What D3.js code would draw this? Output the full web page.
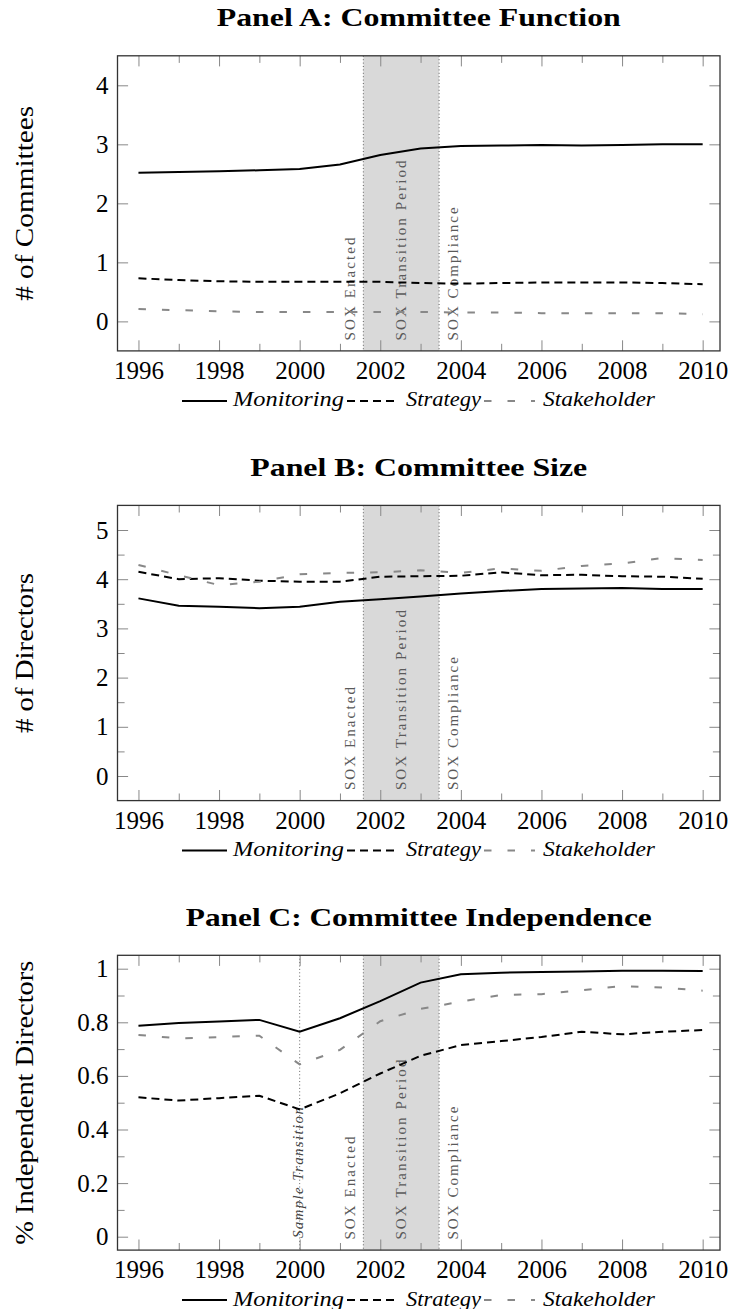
<!DOCTYPE html>
<html>
<head>
<meta charset="utf-8">
<script src="https://cdn.jsdelivr.net/npm/d3@7"></script>
<style>
  body { margin: 0; background: #fff; }
  svg { display: block; }
  text { font-family: "Liberation Serif", "Times New Roman", serif; }
</style>
</head>
<body>
<svg id="chart" width="730" height="1309"></svg>
<script>
// Years on the horizontal axis
const years = [1996, 1997, 1998, 1999, 2000, 2001, 2002, 2003, 2004, 2005, 2006, 2007, 2008, 2009, 2010];
const labeledYears = [1996, 1998, 2000, 2002, 2004, 2006, 2008, 2010];
const minorYears = [1997, 1999, 2001, 2003, 2005, 2007, 2009];

// SOX milestones (fractional years)
const soxEnacted = 2001.58;
const soxCompliance = 2003.46;
const sampleTransition = 2000;

// Panel A: number of committees by function
const monitoringA = [2.52, 2.53, 2.545, 2.56, 2.58, 2.66, 2.82, 2.93, 2.97, 2.98, 2.99, 2.98, 2.99, 3.00, 3.00];
const strategyA = [0.73, 0.70, 0.68, 0.67, 0.67, 0.67, 0.67, 0.65, 0.64, 0.65, 0.66, 0.66, 0.66, 0.65, 0.63];
const stakeholderA = [0.21, 0.19, 0.17, 0.16, 0.16, 0.16, 0.16, 0.16, 0.15, 0.15, 0.14, 0.14, 0.14, 0.14, 0.12];
const ticksA = [0, 1, 2, 3, 4];
const minorTicksA = [];

// Panel B: committee size (directors)
const monitoringB = [3.61, 3.46, 3.44, 3.41, 3.44, 3.54, 3.59, 3.65, 3.71, 3.76, 3.80, 3.81, 3.82, 3.80, 3.80];
const strategyB = [4.15, 4.00, 4.02, 3.97, 3.95, 3.95, 4.05, 4.06, 4.07, 4.14, 4.08, 4.09, 4.06, 4.05, 4.01];
const stakeholderB = [4.29, 4.08, 3.88, 3.95, 4.10, 4.13, 4.14, 4.18, 4.13, 4.22, 4.17, 4.27, 4.32, 4.43, 4.39];
const ticksB = [0, 1, 2, 3, 4, 5];
const minorTicksB = [0.5, 1.5, 2.5, 3.5, 4.5];

// Panel C: share of independent directors
const monitoringC = [0.787, 0.797, 0.803, 0.809, 0.765, 0.815, 0.879, 0.948, 0.979, 0.985, 0.988, 0.990, 0.992, 0.992, 0.991];
const strategyC = [0.520, 0.508, 0.517, 0.526, 0.475, 0.535, 0.609, 0.675, 0.715, 0.730, 0.745, 0.765, 0.755, 0.765, 0.771];
const stakeholderC = [0.753, 0.740, 0.745, 0.750, 0.643, 0.697, 0.804, 0.850, 0.877, 0.902, 0.905, 0.920, 0.935, 0.930, 0.918];
const ticksC = [0, 0.2, 0.4, 0.6, 0.8, 1];
const minorTicksC = [0.1, 0.3, 0.5, 0.7, 0.9];

const seriesNames = ["Monitoring", "Strategy", "Stakeholder"];

const styles = {
  Monitoring: { stroke: "#000", dash: null },
  Strategy: { stroke: "#000", dash: "8,5" },
  Stakeholder: { stroke: "#888", dash: "7.5,16" }
};

const panels = [
  { title: "Panel A: Committee Function", titleW: 404, ylabel: "# of Committees", ylabelW: 195,
    top: 55.8, bottom: 350.9, domain: [-0.5, 4.5], ticks: ticksA, minor: minorTicksA,
    data: [monitoringA, strategyA, stakeholderA], sample: false },
  { title: "Panel B: Committee Size", titleW: 337, ylabel: "# of Directors", ylabelW: 160,
    top: 505.4, bottom: 800.6, domain: [-0.5, 5.5], ticks: ticksB, minor: minorTicksB,
    data: [monitoringB, strategyB, stakeholderB], sample: false },
  { title: "Panel C: Committee Independence", titleW: 466, ylabel: "% Independent Directors", ylabelW: 284,
    top: 955.3, bottom: 1250.1, domain: [-0.05, 1.05], ticks: ticksC, minor: minorTicksC,
    data: [monitoringC, strategyC, stakeholderC], sample: true }
];

const svg = d3.select("#chart");
const left = 117.5, right = 720;
const x = d3.scaleLinear().domain([1995.48, 2010.43]).range([left, right]);
const majorLen = 10.6, minorLen = 7.1;
const fmt = d3.format("~g");

function fit(sel, w, mode) {
  return sel.attr("textLength", w).attr("lengthAdjust", mode || "spacingAndGlyphs");
}

panels.forEach(p => {
  const y = d3.scaleLinear().domain(p.domain).range([p.bottom, p.top]);
  const g = svg.append("g");
  const midX = (left + right) / 2;

  // Title
  fit(g.append("text")
    .attr("x", midX).attr("y", p.top - 29.5)
    .attr("text-anchor", "middle")
    .attr("font-size", 25).attr("font-weight", "bold")
    .text(p.title), p.titleW);

  // Y axis title
  fit(g.append("text")
    .attr("transform", `translate(33,${(p.top + p.bottom) / 2}) rotate(-90)`)
    .attr("text-anchor", "middle")
    .attr("font-size", 25)
    .text(p.ylabel), p.ylabelW);

  // SOX transition band
  g.append("rect")
    .attr("x", x(soxEnacted)).attr("y", p.top)
    .attr("width", x(soxCompliance) - x(soxEnacted))
    .attr("height", p.bottom - p.top)
    .attr("fill", "#d9d9d9");

  const vlines = [soxEnacted, soxCompliance].concat(p.sample ? [sampleTransition] : []);
  g.selectAll(".vl").data(vlines).join("line")
    .attr("x1", d => x(d)).attr("x2", d => x(d))
    .attr("y1", p.top).attr("y2", p.bottom)
    .attr("stroke", "#555").attr("stroke-width", 0.9)
    .attr("stroke-dasharray", "1,2.4");

  // Milestone annotations (letter-spaced, reading bottom to top)
  const annot = (xpos, w, txt, color) => {
    const t = g.append("text")
      .attr("transform", `translate(${xpos},${p.bottom - 10.5}) rotate(-90)`)
      .attr("font-size", 15)
      .attr("fill", color)
      .text(txt);
    fit(t, w, "spacing");
  };
  annot(x(soxEnacted) - 8.3, 103, "SOX Enacted", "#5a5a5a");
  annot((x(soxEnacted) + x(soxCompliance)) / 2 + 5, 180, "SOX Transition Period", "#5a5a5a");
  annot(x(soxCompliance) + 19, 133, "SOX Compliance", "#5a5a5a");
  if (p.sample) {
    const t = g.append("text")
      .attr("transform", `translate(${x(sampleTransition) + 3.5},${p.bottom - 12}) rotate(-90)`)
      .attr("font-size", 15).attr("font-style", "italic")
      .attr("fill", "#444")
      .text("Sample Transition");
    fit(t, 131, "spacing");
  }

  // Series lines
  const line = d3.line().x((d, i) => x(years[i])).y(d => y(d));
  p.data.forEach((vals, k) => {
    const st = styles[seriesNames[k]];
    g.append("path")
      .datum(vals)
      .attr("d", line)
      .attr("fill", "none")
      .attr("stroke", st.stroke)
      .attr("stroke-width", 2)
      .attr("stroke-dasharray", st.dash);
  });

  // Axes (ticks point inward, mirrored on all sides)
  const tickStyle = sel => {
    sel.select(".domain").remove();
    sel.selectAll(".tick line").attr("stroke", "#888").attr("stroke-width", 1);
  };
  g.append("g").attr("transform", `translate(0,${p.bottom})`)
    .call(d3.axisBottom(x).tickValues(labeledYears).tickFormat(d3.format("d"))
      .tickSize(-majorLen).tickPadding(10.2))
    .call(tickStyle)
    .selectAll("text").attr("font-size", 25).attr("fill", "#000")
    .attr("font-family", '"Liberation Serif", serif');
  g.append("g").attr("transform", `translate(0,${p.bottom})`)
    .call(d3.axisBottom(x).tickValues(minorYears).tickFormat("").tickSize(-minorLen))
    .call(tickStyle);
  g.append("g").attr("transform", `translate(0,${p.top})`)
    .call(d3.axisTop(x).tickValues(labeledYears).tickFormat("").tickSize(-majorLen))
    .call(tickStyle);
  g.append("g").attr("transform", `translate(0,${p.top})`)
    .call(d3.axisTop(x).tickValues(minorYears).tickFormat("").tickSize(-minorLen))
    .call(tickStyle);

  g.append("g").attr("transform", `translate(${left},0)`)
    .call(d3.axisLeft(y).tickValues(p.ticks).tickFormat(fmt).tickSize(-majorLen).tickPadding(9))
    .call(tickStyle)
    .selectAll("text").attr("font-size", 25).attr("fill", "#000")
    .attr("font-family", '"Liberation Serif", serif');
  g.append("g").attr("transform", `translate(${left},0)`)
    .call(d3.axisLeft(y).tickValues(p.minor).tickFormat("").tickSize(-minorLen))
    .call(tickStyle);
  g.append("g").attr("transform", `translate(${right},0)`)
    .call(d3.axisRight(y).tickValues(p.ticks).tickFormat("").tickSize(-majorLen))
    .call(tickStyle);
  g.append("g").attr("transform", `translate(${right},0)`)
    .call(d3.axisRight(y).tickValues(p.minor).tickFormat("").tickSize(-minorLen))
    .call(tickStyle);

  // Frame
  g.append("rect")
    .attr("x", left).attr("y", p.top)
    .attr("width", right - left).attr("height", p.bottom - p.top)
    .attr("fill", "none").attr("stroke", "#333").attr("stroke-width", 1.3);

  // Legend
  const ly = p.bottom + 50;
  const legendItems = [
    { name: "Monitoring", x0: 182, x1: 227, tx: 233, tw: 111 },
    { name: "Strategy", x0: 347, x1: 398, tx: 406, tw: 75 },
    { name: "Stakeholder", x0: 484, x1: 535, tx: 543, tw: 112 }
  ];
  legendItems.forEach(it => {
    const st = styles[it.name];
    g.append("line")
      .attr("x1", it.x0).attr("x2", it.x1).attr("y1", ly).attr("y2", ly)
      .attr("stroke", st.stroke).attr("stroke-width", 2)
      .attr("stroke-dasharray", st.dash);
    fit(g.append("text")
      .attr("x", it.tx).attr("y", ly + 5.5)
      .attr("font-size", 20).attr("font-style", "italic")
      .text(it.name), it.tw);
  });
});
</script>
</body>
</html>
